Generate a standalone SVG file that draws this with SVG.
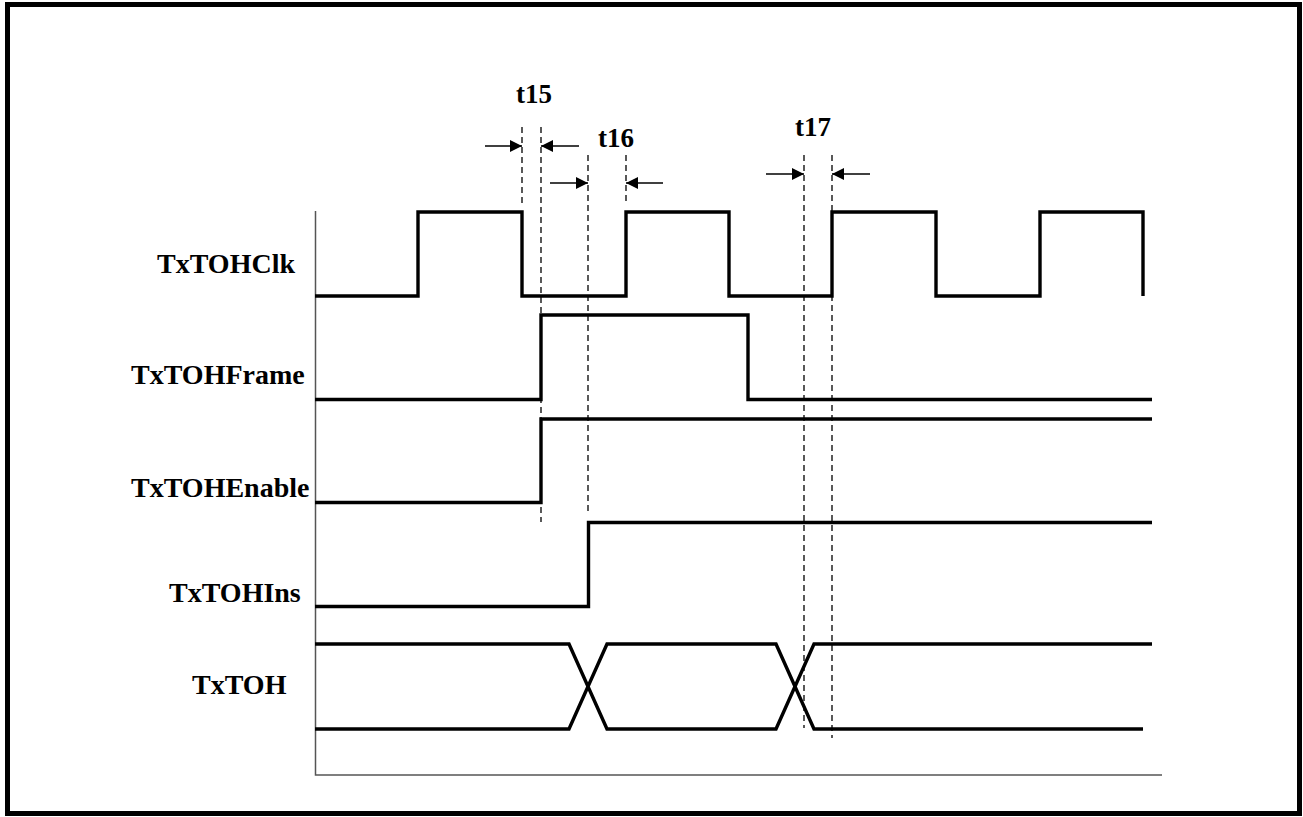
<svg xmlns="http://www.w3.org/2000/svg" width="1303" height="817" viewBox="0 0 1303 817">
<style>
.lbl{font-family:"Liberation Serif","Times New Roman",serif;font-weight:bold;font-size:28px;fill:#000}
.tl{font-family:"Liberation Serif","Times New Roman",serif;font-weight:bold;font-size:27px;fill:#000;text-anchor:middle}
.sig{fill:none;stroke:#000;stroke-width:3.4;stroke-linejoin:miter;stroke-linecap:butt}
.dash{stroke:#000;stroke-width:1.3;stroke-dasharray:6,4;fill:none}
.arr{stroke:#000;stroke-width:1.6;fill:none}
.ax{stroke:#555;stroke-width:1.5;fill:none}
</style>
<defs>
<marker id="ah" markerWidth="12" markerHeight="12" refX="12" refY="6" orient="auto" markerUnits="userSpaceOnUse">
<path d="M0,0 L12,6 L0,12 Z" fill="#000"/>
</marker>
</defs>
<rect x="0" y="0" width="1303" height="817" fill="#fff"/>
<rect x="7.5" y="4.5" width="1292" height="809" fill="none" stroke="#000" stroke-width="5"/>
<g id="axes">
<path class="ax" d="M315.5,211 V775 H1162"/>
</g>
<g id="labels">
<text class="lbl" x="157" y="273">TxTOHClk</text>
<text class="lbl" x="131" y="384">TxTOHFrame</text>
<text class="lbl" x="131" y="497">TxTOHEnable</text>
<text class="lbl" x="169" y="602">TxTOHIns</text>
<text class="lbl" x="192" y="694">TxTOH</text>
</g>
<g id="TxTOHClk">
<path class="sig" d="M315,296 H418 V212 H522 V296 H626 V212 H729 V296 H832 V212 H936 V296 H1040 V212 H1143 V296"/>
</g>
<g id="TxTOHFrame">
<path class="sig" d="M315,399.5 H541 V315 H748 V399.5 H1152"/>
</g>
<g id="TxTOHEnable">
<path class="sig" d="M315,502.5 H541 V419 H1152"/>
</g>
<g id="TxTOHIns">
<path class="sig" d="M315,606.5 H588.5 V522.5 H1152"/>
</g>
<g id="TxTOH">
<path class="sig" d="M315,644 H569 L607,729 H776 L814,644 H1152"/>
<path class="sig" d="M315,729 H569 L607,644 H776 L814,729 H1143"/>
</g>
<g id="connectors">
<line class="dash" x1="522" y1="127" x2="522" y2="204"/>
<line class="dash" x1="541" y1="127" x2="541" y2="522"/>
<line class="dash" x1="588" y1="155" x2="588" y2="512"/>
<line class="dash" x1="626" y1="155" x2="626" y2="204"/>
<line class="dash" x1="804" y1="155" x2="804" y2="728"/>
<line class="dash" x1="832" y1="155" x2="832" y2="738"/>
<line class="arr" x1="485" y1="146" x2="522" y2="146" marker-end="url(#ah)"/>
<line class="arr" x1="579" y1="146" x2="541" y2="146" marker-end="url(#ah)"/>
<line class="arr" x1="550" y1="183" x2="588" y2="183" marker-end="url(#ah)"/>
<line class="arr" x1="663" y1="183" x2="626" y2="183" marker-end="url(#ah)"/>
<line class="arr" x1="766" y1="174" x2="804" y2="174" marker-end="url(#ah)"/>
<line class="arr" x1="870" y1="174" x2="832" y2="174" marker-end="url(#ah)"/>
</g>
<g id="timing-labels">
<text class="tl" x="534" y="103">t15</text>
<text class="tl" x="616" y="147">t16</text>
<text class="tl" x="813" y="136">t17</text>
</g>
</svg>
